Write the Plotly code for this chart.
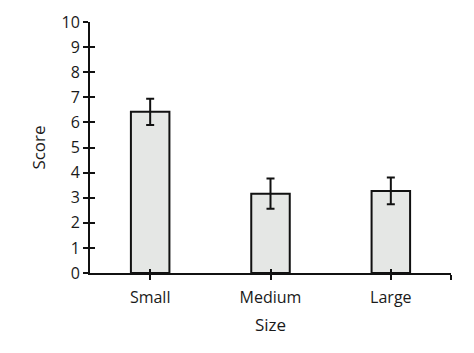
import plotly.graph_objects as go

categories = ["Small", "Medium", "Large"]
scores = [6.42, 3.16, 3.27]
errors = [0.52, 0.60, 0.53]
y_ticks = list(range(0, 11))

xpos = list(range(len(categories)))
font = dict(family="Open Sans, sans-serif", size=16, color="#1a1a1a")
title_font = dict(family="Open Sans, sans-serif", size=17, color="#1a1a1a")

fig = go.Figure()
fig.add_trace(go.Bar(
    x=xpos, y=scores, width=0.32,
    marker=dict(color="#e5e7e5", line=dict(color="#111111", width=2)),
    error_y=dict(type="data", array=errors, visible=True, color="#111111", thickness=2, width=4),
    showlegend=False,
))
# invisible trace to anchor the overlay axes (for crossing tick marks)
fig.add_trace(go.Scatter(x=[0], y=[0], xaxis="x2", yaxis="y2", mode="markers",
                         marker=dict(opacity=0), showlegend=False, hoverinfo="skip"))

xr = [-0.5, 2.5]
fig.update_layout(
    width=474, height=353,
    margin=dict(l=90, r=23, t=22, b=80),
    paper_bgcolor="white", plot_bgcolor="white",
    font=font,
    xaxis=dict(range=xr, tickvals=xpos + [2.5], ticktext=categories + [""],
               showgrid=False, zeroline=False, showline=True, linecolor="#111111", linewidth=2,
               ticks="outside", ticklen=5, tickwidth=2, tickcolor="#111111",
               ticklabelstandoff=4,
               title=dict(text="Size", font=title_font, standoff=12), tickfont=font),
    yaxis=dict(range=[0, 10], tickvals=y_ticks, showgrid=False, zeroline=False,
               showline=True, linecolor="#111111", linewidth=2,
               ticks="outside", ticklen=5, tickwidth=2, tickcolor="#111111",
               title=dict(text="Score", font=title_font, standoff=12), tickfont=font),
    xaxis2=dict(overlaying="x", range=xr, tickvals=xpos + [2.5], showticklabels=False,
                showgrid=False, zeroline=False, showline=False,
                ticks="inside", ticklen=4, tickwidth=2, tickcolor="#111111", side="bottom"),
    yaxis2=dict(overlaying="y", range=[0, 10], tickvals=y_ticks, showticklabels=False,
                showgrid=False, zeroline=False, showline=False,
                ticks="inside", ticklen=5, tickwidth=2, tickcolor="#111111", side="left"),
)

fig.write_html("out.html")
